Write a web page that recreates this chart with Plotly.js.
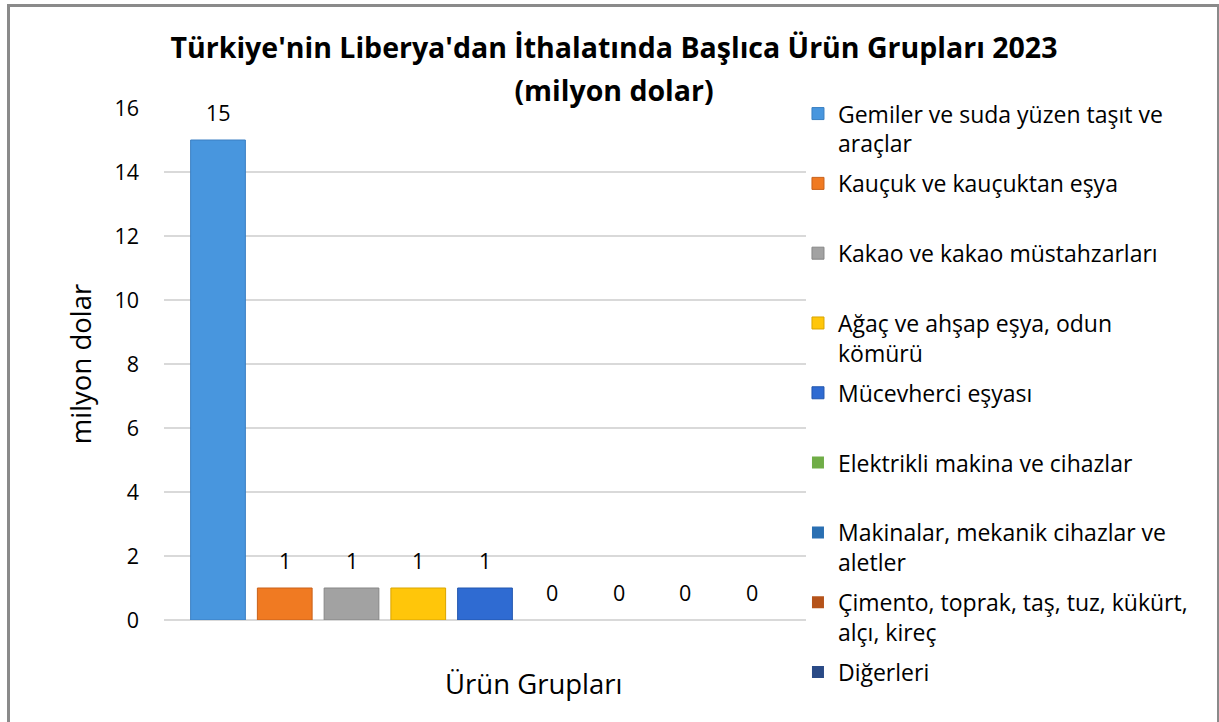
<!DOCTYPE html>
<html>
<head>
<meta charset="utf-8">
<script src="https://cdn.plot.ly/plotly-3.0.1.min.js"></script>
<style>
  html, body { margin: 0; padding: 0; background: #fff; overflow: hidden; }
  #chart { width: 1219px; height: 722px; }
  #frame { position: absolute; left: 7px; top: 4px; width: 1207px; height: 740px;
           border: 3px solid #8a8a8a; border-bottom: none; pointer-events: none; }
</style>
</head>
<body>
<div id="chart"></div>
<div id="frame"></div>
<script>
// ---- data ----
const productGroups = [
  "Gemiler ve suda yüzen taşıt ve<br>araçlar",
  "Kauçuk ve kauçuktan eşya",
  "Kakao ve kakao müstahzarları",
  "Ağaç ve ahşap eşya, odun<br>kömürü",
  "Mücevherci eşyası",
  "Elektrikli makina ve cihazlar",
  "Makinalar, mekanik cihazlar ve<br>aletler",
  "Çimento, toprak, taş, tuz, kükürt,<br>alçı, kireç",
  "Diğerleri"
];
const importValues = [15, 1, 1, 1, 1, 0, 0, 0, 0];
const barColors = ["#4896DE", "#F07A22", "#A2A2A2", "#FFC60A", "#2F6BD2",
                   "#70AD47", "#2A6FB2", "#B5531A", "#2A4A86"];
const lineColors = ["#3A7FC2", "#C8611A", "#868686", "#D9A500", "#2256AE",
                    "#5A9238", "#1F5A94", "#924212", "#1E3766"];
const yTicks = [0, 2, 4, 6, 8, 10, 12, 14, 16];
const chartTitle = ["Türkiye'nin Liberya'dan İthalatında Başlıca Ürün Grupları 2023", "(milyon dolar)"];
const xTitle = "Ürün Grupları";
const yTitle = "milyon dolar";

const FONT = "Open Sans, sans-serif";

const traces = productGroups.map((name, i) => {
  const lines = name.split("<br>").length;
  const isLast = i === productGroups.length - 1;
  const legendName = (lines < 2 && !isLast) ? name + "<br> " : name;
  return {
    type: "bar",
    x: [name],
    y: [importValues[i]],
    name: legendName,
    legendgroup: "g" + i,
    width: 0.82,
    marker: { color: barColors[i], line: { color: lineColors[i], width: importValues[i] > 0 ? 1 : 0 } },
    hoverinfo: "skip"
  };
});

const annotations = productGroups.map((name, i) => ({
  x: name, y: importValues[i], xref: "x", yref: "y",
  text: String(importValues[i]), showarrow: false,
  yanchor: "bottom", yshift: 11.5,
  font: { family: FONT, size: 21.5, color: "#000" }
}));
annotations.push({
  text: xTitle, xref: "paper", yref: "paper",
  x: (534 - 164) / 642, y: 0, xanchor: "center", yanchor: "top", yshift: -43,
  showarrow: false, font: { family: FONT, size: 27.5, color: "#000" }
});

const layout = {
  width: 1219, height: 722,
  margin: { l: 164, r: 413, t: 108, b: 102 },
  paper_bgcolor: "#fff", plot_bgcolor: "#fff",
  font: { family: FONT, color: "#000" },
  title: {
    text: "<b>" + chartTitle.map(t => '<span style="font-size:28.5px">' + t + '</span>').join("<br>") + "</b>",
    font: { family: FONT, size: 33, color: "#000", weight: 700 },
    x: 614 / 1219, xanchor: "center", xref: "container",
    y: 0.919, yanchor: "top", yref: "container"
  },
  barmode: "overlay",
  showlegend: true,
  legend: {
    x: 0.9875, xanchor: "left", y: 1.031, yanchor: "top",
    font: { family: FONT, size: 23, color: "#000" },
    valign: "top", tracegroupgap: 7,
    maxheight: 720,
    bgcolor: "rgba(0,0,0,0)", itemclick: false, itemdoubleclick: false
  },
  xaxis: {
    type: "category",
    range: [-0.809, 8.809],
    showticklabels: false, ticks: "",
    showgrid: false, zeroline: false, showline: false,
    fixedrange: true
  },
  yaxis: {
    range: [0, 16],
    tickvals: yTicks,
    ticktext: yTicks.map(String),
    tickfont: { family: FONT, size: 21.5, color: "#000" },
    ticks: "", ticklabelstandoff: 24,
    showgrid: true, gridcolor: "#D9D9D9", gridwidth: 1.5,
    zeroline: true, zerolinecolor: "#D9D9D9", zerolinewidth: 1.5,
    showline: false,
    title: { text: yTitle, font: { family: FONT, size: 27.5, color: "#000" }, standoff: 14 },
    automargin: false,
    fixedrange: true
  },
  annotations: annotations
};

Plotly.newPlot("chart", traces, layout, { displayModeBar: false, staticPlot: true });
</script>
</body>
</html>
